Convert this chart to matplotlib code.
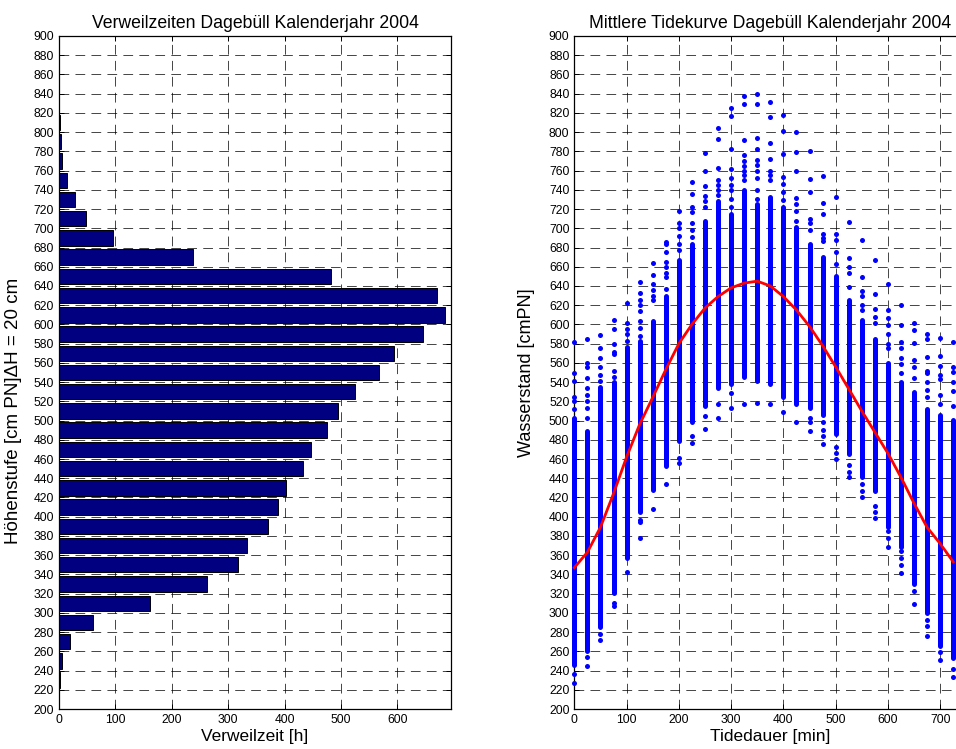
import matplotlib
matplotlib.use('Agg')
import matplotlib.pyplot as plt

plt.rcParams['font.family'] = ['Liberation Sans', 'DejaVu Sans']
plt.rcParams['lines.scale_dashes'] = False

# --- left: Verweilzeiten ---
hoehenstufe = [230, 250, 270, 290, 310, 330, 350, 370, 390, 410, 430, 450, 470, 490, 510,
               530, 550, 570, 590, 610, 630, 650, 670, 690, 710, 730, 750, 770, 790, 810, 830]
verweilzeit = [1, 6, 20, 61, 162, 263, 318, 334, 370, 388, 403, 433, 446, 475, 494,
               524, 567, 594, 645, 684, 670, 482, 238, 96, 47, 28, 15, 6, 3, 1, 0.5]

# --- right: Tidekurve ---
tide_x = [0, 25, 50, 75, 100, 125, 150, 175, 200, 225, 250, 275, 300, 325, 350,
          375, 400, 425, 450, 475, 500, 525, 550, 575, 600, 625, 650, 675, 700, 725]
mean_curve = [347, 363, 389, 424, 462, 496, 524, 553, 580, 600, 617, 629, 638, 643, 645,
              640, 629, 615, 598, 578, 556, 533, 510, 488, 466, 441, 414, 389, 372, 353]
dense_lo = [246, 260, 285, 321, 357, 405, 428, 453, 479, 499, 515, 534, 538, 545, 541,
            538, 525, 517, 513, 506, 486, 465, 441, 427, 389, 368, 330, 300, 266, 253]
dense_hi = [503, 489, 535, 540, 577, 583, 604, 630, 667, 684, 708, 728, 715, 740, 725,
            733, 722, 701, 684, 670, 650, 625, 605, 585, 560, 540, 530, 512, 506, 501]
upper_pts = [
    [582, 549, 541, 525, 520, 512],
    [585, 560, 556, 544, 534, 527, 520, 513, 503],
    [589, 575, 565, 556, 547, 541],
    [605, 595, 580, 571, 569, 552, 545],
    [622, 601, 595, 590, 583],
    [644, 633, 625, 620, 614, 604, 596, 588],
    [664, 651, 642, 636, 630, 625],
    [686, 684, 675, 665, 660, 654, 649, 637],
    [718, 705, 700, 692, 684, 677],
    [748, 736, 722, 717, 705, 698, 691],
    [778, 760, 744, 734, 728, 722],
    [804, 793, 763, 750, 745, 740, 735],
    [825, 817, 782, 762, 752, 745, 740, 730, 722],
    [838, 829, 792, 776, 770, 765, 760, 755, 750],
    [840, 829, 794, 782, 771, 766, 760, 752, 740, 730],
    [831, 816, 789, 772, 760, 755, 750],
    [818, 801, 777, 753, 746, 738, 729],
    [800, 779, 760, 732, 725, 718, 708],
    [780, 751, 738, 710, 705, 698],
    [754, 726, 715, 694, 690, 687],
    [733, 694, 688, 675, 663],
    [707, 669, 660, 653, 639],
    [688, 649, 635, 630, 620, 615],
    [667, 632, 616, 608, 601],
    [642, 615, 607, 599, 590, 580, 576],
    [620, 599, 582, 576, 565, 559, 549],
    [602, 594, 581, 563, 556, 544],
    [590, 585, 566, 552, 549, 540, 532, 525],
    [586, 567, 557, 547, 543, 527, 517],
    [582, 556, 551, 540, 531, 515],
]
lower_pts = [
    [236, 227], [254, 245], [278, 272], [310, 307], [342], [397, 395, 378],
    [408], [434], [461, 456], [484, 477], [505, 491], [517, 503], [529, 513],
    [517], [518], [517], [509], [499], [503, 499, 489], [499, 490, 484, 476],
    [473, 466, 460], [454, 447, 441], [434, 427, 420], [411, 405, 399],
    [385, 378, 369], [364, 357, 350, 341], [323, 309], [293, 286, 276],
    [259, 251], [242, 233],
]

W, H = 956, 749
fig = plt.figure(figsize=(W / 100, H / 100), dpi=100)

ax1 = fig.add_axes([59 / W, 40 / H, 392 / W, 673 / H])
ax2 = fig.add_axes([574.3 / W, 40 / H, 392 / W, 673 / H])


def matlab_style(ax):
    ax.set_axisbelow(True)
    ax.grid(True, color='k', linestyle=(0, (7, 4.5)), linewidth=0.6, alpha=0.85)
    ax.tick_params(direction='in', top=True, right=True, length=3.5, width=0.7,
                   labelsize=8.7, pad=3.5)
    for s in ax.spines.values():
        s.set_linewidth(0.9)
    ax.set_yticks(range(200, 901, 20))
    ax.set_ylim(200, 900)


matlab_style(ax1)
ax1.barh(hoehenstufe, verweilzeit, height=16, color='#000080', edgecolor='k', linewidth=0.7)
ax1.set_xlim(0, 695)
ax1.set_xticks(range(0, 601, 100))
ax1.set_title('Verweilzeiten Dagebüll Kalenderjahr 2004', fontsize=12.7, pad=6)
ax1.set_xlabel('Verweilzeit [h]', fontsize=12.5, labelpad=2)
ax1.set_ylabel('Höhenstufe [cm PN]ΔH = 20 cm', fontsize=13.5)
ax1.yaxis.set_label_coords(-0.094, 0.443)

matlab_style(ax2)
ax2.vlines(tide_x, dense_lo, dense_hi, color='#0000ff', linewidth=3.6,
           capstyle='round', clip_on=False, zorder=3)
for x, up, lo in zip(tide_x, upper_pts, lower_pts):
    ys = up + lo
    ax2.scatter([x] * len(ys), ys, s=13, color='#0000ff', linewidths=0,
                clip_on=False, zorder=3)
ax2.plot(tide_x, mean_curve, color='#ff0000', linewidth=2.0, zorder=4, clip_on=False)
ax2.set_xlim(0, 750)
ax2.set_xticks(range(0, 701, 100))
ax2.set_title('Mittlere Tidekurve Dagebüll Kalenderjahr 2004', fontsize=12.7, pad=6)
ax2.set_xlabel('Tidedauer [min]', fontsize=12.5, labelpad=2)
ax2.set_ylabel('Wasserstand [cmPN]', fontsize=13)
ax2.yaxis.set_label_coords(-0.1, 0.5)

fig.savefig('out.png', dpi=100)
